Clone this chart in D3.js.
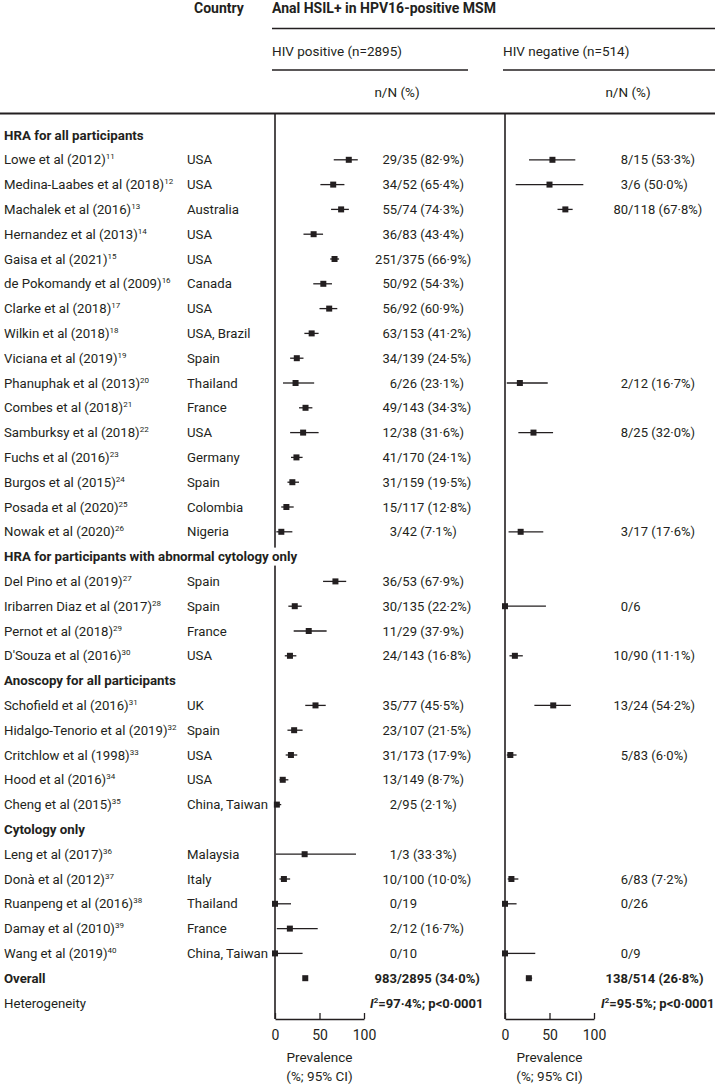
<!DOCTYPE html>
<html>
<head>
<meta charset="utf-8">
<script src="https://cdn.jsdelivr.net/npm/d3@7/dist/d3.min.js"></script>
<style>
  html, body { margin: 0; padding: 0; background: #fff; }
  svg { display: block; font-family: Roboto, "Liberation Sans", sans-serif; }
</style>
</head>
<body>
<svg id="chart" width="715" height="1085"></svg>
<script>
// ---------------- DATA ----------------
const sections = [
  "HRA for all participants",
  "HRA for participants with abnormal cytology only",
  "Anoscopy for all participants",
  "Cytology only"
];
const sectionSizes = [16, 4, 5, 5];

const studies = [
  "Lowe et al (2012)", "Medina-Laabes et al (2018)", "Machalek et al (2016)", "Hernandez et al (2013)",
  "Gaisa et al (2021)", "de Pokomandy et al (2009)", "Clarke et al (2018)", "Wilkin et al (2018)",
  "Viciana et al (2019)", "Phanuphak et al (2013)", "Combes et al (2018)", "Samburksy et al (2018)",
  "Fuchs et al (2016)", "Burgos et al (2015)", "Posada et al (2020)", "Nowak et al (2020)",
  "Del Pino et al (2019)", "Iribarren Diaz et al (2017)", "Pernot et al (2018)", "D'Souza et al (2016)",
  "Schofield et al (2016)", "Hidalgo-Tenorio et al (2019)", "Critchlow et al (1998)", "Hood et al (2016)", "Cheng et al (2015)",
  "Leng et al (2017)", "Donà et al (2012)", "Ruanpeng et al (2016)", "Damay et al (2010)", "Wang et al (2019)"
];
const refs = [11,12,13,14,15,16,17,18,19,20,21,22,23,24,25,26,27,28,29,30,31,32,33,34,35,36,37,38,39,40];
const countries = [
  "USA", "USA", "Australia", "USA", "USA", "Canada", "USA", "USA, Brazil",
  "Spain", "Thailand", "France", "USA", "Germany", "Spain", "Colombia", "Nigeria",
  "Spain", "Spain", "France", "USA",
  "UK", "Spain", "USA", "USA", "China, Taiwan",
  "Malaysia", "Italy", "Thailand", "France", "China, Taiwan"
];

// HIV positive
const posLabel = [
  "29/35 (82·9%)", "34/52 (65·4%)", "55/74 (74·3%)", "36/83 (43·4%)", "251/375 (66·9%)", "50/92 (54·3%)",
  "56/92 (60·9%)", "63/153 (41·2%)", "34/139 (24·5%)", "6/26 (23·1%)", "49/143 (34·3%)", "12/38 (31·6%)",
  "41/170 (24·1%)", "31/159 (19·5%)", "15/117 (12·8%)", "3/42 (7·1%)",
  "36/53 (67·9%)", "30/135 (22·2%)", "11/29 (37·9%)", "24/143 (16·8%)",
  "35/77 (45·5%)", "23/107 (21·5%)", "31/173 (17·9%)", "13/149 (8·7%)", "2/95 (2·1%)",
  "1/3 (33·3%)", "10/100 (10·0%)", "0/19", "2/12 (16·7%)", "0/10"
];
const posEst  = [82.9, 65.4, 74.3, 43.4, 66.9, 54.3, 60.9, 41.2, 24.5, 23.1, 34.3, 31.6, 24.1, 19.5, 12.8, 7.1,
                 67.9, 22.2, 37.9, 16.8, 45.5, 21.5, 17.9, 8.7, 2.1, 33.3, 10.0, 0, 16.7, 0];
const posLow  = [66, 51, 63, 32, 62, 43, 50, 33, 17, 9, 27, 17, 18, 14, 7, 1.5,
                 54, 15, 21, 11, 34, 14, 12, 5, 0.3, 0.8, 5, 0, 2, 0];
const posHigh = [93, 78, 83, 54, 72, 64, 70, 49, 32, 44, 42, 49, 31, 27, 21, 19.5,
                 80, 30, 58, 24, 57, 31, 25, 15, 7, 91, 17, 18, 48, 31];

// HIV negative
const negLabel = [
  "8/15 (53·3%)", "3/6 (50·0%)", "80/118 (67·8%)", null, null, null, null, null, null, "2/12 (16·7%)", null, "8/25 (32·0%)",
  null, null, null, "3/17 (17·6%)",
  null, "0/6", null, "10/90 (11·1%)",
  "13/24 (54·2%)", null, "5/83 (6·0%)", null, null,
  null, "6/83 (7·2%)", "0/26", null, "0/9"
];
const negEst  = [53.3, 50.0, 67.8, null, null, null, null, null, null, 16.7, null, 32.0, null, null, null, 17.6,
                 null, 0, null, 11.1, 54.2, null, 6.0, null, null, null, 7.2, 0, null, 0];
const negLow  = [27, 12, 59, null, null, null, null, null, null, 2, null, 15, null, null, null, 4,
                 null, 0, null, 5, 33, null, 2, null, null, null, 3, 0, null, 0];
const negHigh = [79, 88, 76, null, null, null, null, null, null, 48, null, 54, null, null, null, 43,
                 null, 46, null, 20, 74, null, 13, null, null, null, 15, 13, null, 34];

const overallLabel = ["983/2895 (34·0%)", "138/514 (26·8%)"];
const overallEst   = [34.0, 26.8];
const overallLow   = [32.5, 23.5];
const overallHigh  = [35.5, 30.5];
const hetI2        = ["97·4%", "95·5%"];
const hetP         = "p<0·0001";
const tickValues   = [0, 50, 100];

// ---------------- BUILD ROWS ----------------
const rows = [];
let k = 0;
sections.forEach((s, si) => {
  rows.push({type: "section", label: s});
  for (let j = 0; j < sectionSizes[si]; j++, k++) rows.push({type: "study", idx: k});
});
rows.push({type: "overall"});
rows.push({type: "het"});

// ---------------- DRAW ----------------
const INK = "#231f20";
const svg = d3.select("#chart");
const y = d3.scalePoint().domain(d3.range(rows.length)).range([135, 1003]);
const xPos = d3.scaleLinear().domain([0, 100]).range([275, 364]);
const xNeg = d3.scaleLinear().domain([0, 100]).range([505, 594]);
const slashPos = 397, slashNeg = 628;
const axisY = 1019;

const gLines = svg.append("g");
const gMask = svg.append("g");
const gText = svg.append("g").attr("fill", INK);
const gMarks = svg.append("g");

// header
gText.append("text").attr("x", 194).attr("y", 13).attr("font-size", 14).attr("font-weight", 700).text("Country");
gText.append("text").attr("x", 272).attr("y", 13).attr("font-size", 14).attr("font-weight", 700).text("Anal HSIL+ in HPV16-positive MSM");
gText.append("text").attr("x", 272).attr("y", 55.5).attr("font-size", 13.5).text("HIV positive (n=2895)");
gText.append("text").attr("x", 503).attr("y", 55.5).attr("font-size", 13.5).text("HIV negative (n=514)");
gText.append("text").attr("x", slashPos).attr("y", 96.5).attr("font-size", 13.5).attr("text-anchor", "middle").text("n/N (%)");
gText.append("text").attr("x", slashNeg).attr("y", 96.5).attr("font-size", 13.5).attr("text-anchor", "middle").text("n/N (%)");

const hline = (x1, x2, yy, w) => gLines.append("line").attr("x1", x1).attr("x2", x2).attr("y1", yy).attr("y2", yy)
  .attr("stroke", INK).attr("stroke-width", w);
hline(272, 715, 28.5, 1.4);
hline(272, 468, 70, 1.4);
hline(503, 715, 70, 1.4);
hline(0, 715, 113.5, 2);

// vertical reference lines
[xPos(0), xNeg(0)].forEach(xx => gLines.append("line").attr("x1", xx).attr("x2", xx)
  .attr("y1", 113.5).attr("y2", axisY).attr("stroke", INK).attr("stroke-width", 1.6));

function fraction(g, label, slashX, yy, bold) {
  const i = label.indexOf("/");
  const t1 = g.append("text").attr("x", slashX).attr("y", yy).attr("font-size", 13).attr("text-anchor", "end")
    .text(label.slice(0, i));
  const t2 = g.append("text").attr("x", slashX).attr("y", yy).attr("font-size", 13).attr("text-anchor", "start")
    .text(label.slice(i));
  if (bold) { t1.attr("font-weight", 700); t2.attr("font-weight", 700); }
}

function marker(x, est, lo, hi, yy) {
  gMarks.append("line").attr("x1", x(lo)).attr("x2", x(hi)).attr("y1", yy).attr("y2", yy)
    .attr("stroke", INK).attr("stroke-width", 1.3);
  gMarks.append("rect").attr("x", x(est) - 3).attr("y", yy - 3).attr("width", 6).attr("height", 6).attr("fill", INK);
}

rows.forEach((r, ri) => {
  const yy = y(ri);
  const base = yy + 4.5;
  if (r.type === "section") {
    const t = gText.append("text").attr("x", 4).attr("y", base).attr("font-size", 13.3).attr("font-weight", 700).text(r.label);
    const bb = t.node().getBBox();
    if (bb.x + bb.width > xPos(0) - 2) {
      gMask.append("rect").attr("x", bb.x).attr("y", yy - 9).attr("width", bb.width + 2).attr("height", 18).attr("fill", "#fff");
    }
  } else if (r.type === "study") {
    const i = r.idx;
    const t = gText.append("text").attr("x", 4).attr("y", base).attr("font-size", 13.2);
    t.append("tspan").text(studies[i]);
    t.append("tspan").attr("font-size", 8).attr("dy", -5).text(refs[i]);
    gText.append("text").attr("x", 187).attr("y", base).attr("font-size", 13.2).text(countries[i]);
    marker(xPos, posEst[i], posLow[i], posHigh[i], yy);
    fraction(gText, posLabel[i], slashPos, base, false);
    if (negLabel[i] !== null) {
      marker(xNeg, negEst[i], negLow[i], negHigh[i], yy);
      fraction(gText, negLabel[i], slashNeg, base, false);
    }
  } else if (r.type === "overall") {
    gText.append("text").attr("x", 4).attr("y", base).attr("font-size", 13.2).attr("font-weight", 700).text("Overall");
    marker(xPos, overallEst[0], overallLow[0], overallHigh[0], yy);
    marker(xNeg, overallEst[1], overallLow[1], overallHigh[1], yy);
    fraction(gText, overallLabel[0], slashPos, base, true);
    fraction(gText, overallLabel[1], slashNeg, base, true);
  } else {
    gText.append("text").attr("x", 4).attr("y", base).attr("font-size", 13.2).text("Heterogeneity");
    [slashPos, slashNeg].forEach((sx, j) => {
      const t = gText.append("text").attr("x", sx - 27).attr("y", base).attr("font-size", 13).attr("font-weight", 700);
      t.append("tspan").attr("font-style", "italic").text("I");
      t.append("tspan").attr("font-size", 8).attr("dy", -5).text("2");
      t.append("tspan").attr("dy", 5).text("=" + hetI2[j] + "; " + hetP);
    });
  }
});

// axes
[xPos, xNeg].forEach(x => {
  const ax = svg.append("g").attr("transform", `translate(0,${axisY})`)
    .call(d3.axisBottom(x).tickValues(tickValues).tickSize(-6).tickSizeOuter(0).tickPadding(11));
  ax.attr("font-family", null).attr("font-size", 14);
  ax.select(".domain").attr("stroke", INK).attr("stroke-width", 1.6);
  ax.selectAll(".tick line").attr("stroke", INK).attr("stroke-width", 1.3);
  ax.selectAll(".tick text").attr("fill", INK);
  const cx = (x.range()[0] + x.range()[1]) / 2;
  gText.append("text").attr("x", cx).attr("y", 1062).attr("font-size", 13.5).attr("text-anchor", "middle").text("Prevalence");
  gText.append("text").attr("x", cx).attr("y", 1081).attr("font-size", 13.5).attr("text-anchor", "middle").text("(%; 95% CI)");
});
</script>
</body>
</html>
